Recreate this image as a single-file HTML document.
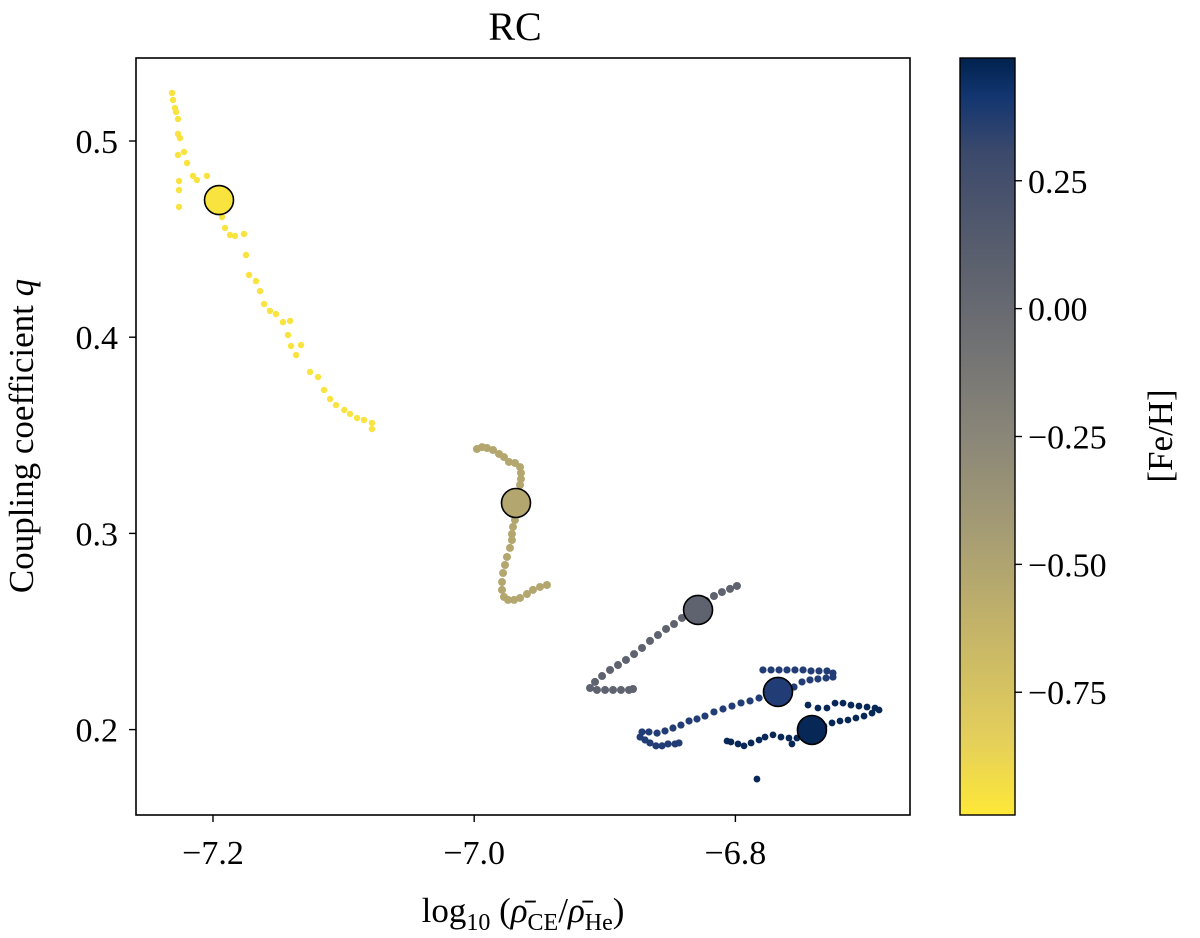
<!DOCTYPE html>
<html><head><meta charset="utf-8"><style>
html,body{margin:0;padding:0;background:#fff;}
svg{display:block;font-family:"Liberation Serif","DejaVu Serif",serif;}
</style></head><body>
<svg id="chart" width="1200" height="938" viewBox="0 0 1200 938">
<defs>
<linearGradient id="cbgrad" x1="0" y1="1" x2="0" y2="0">
<stop offset="0" stop-color="#fee838"/><stop offset="0.1" stop-color="#e4cf5b"/>
<stop offset="0.25" stop-color="#c3b369"/><stop offset="0.375" stop-color="#a59c74"/>
<stop offset="0.5" stop-color="#8a8678"/><stop offset="0.625" stop-color="#707173"/>
<stop offset="0.75" stop-color="#575d6d"/><stop offset="0.875" stop-color="#3b496c"/>
<stop offset="0.95" stop-color="#123570"/><stop offset="1" stop-color="#00224e"/>
</linearGradient>
</defs>
<text x="515" y="40" font-size="40" text-anchor="middle">RC</text>
<g id="marks"></g>
<rect x="136" y="58" width="774" height="757" fill="none" stroke="#000" stroke-width="1.6"/>
<g id="axes"></g>
<text transform="translate(33,436) rotate(-90)" font-size="35" text-anchor="middle">Coupling coefficient <tspan font-style="italic">q</tspan></text>
<text x="523" y="922" font-size="35" text-anchor="middle">log<tspan font-size="24" dy="8">10</tspan><tspan dy="-8"> (</tspan><tspan font-style="italic">ρ̄</tspan><tspan font-size="24" dy="8">CE</tspan><tspan dy="-8">/</tspan><tspan font-style="italic">ρ̄</tspan><tspan font-size="24" dy="8">He</tspan><tspan dy="-8">)</tspan></text>
<rect x="960" y="58" width="55" height="757" fill="url(#cbgrad)" stroke="#000" stroke-width="1.4"/>
<g id="cbaxis"></g>
<text transform="translate(1172,436) rotate(-90)" font-size="35" text-anchor="middle">[Fe/H]</text>
</svg>
<script>
const xTicks=[-7.2,-7.0,-6.8];
const xTickLabels=["−7.2","−7.0","−6.8"];
const yTicks=[0.2,0.3,0.4,0.5];
const yTickLabels=["0.2","0.3","0.4","0.5"];
const cbTicks=[-0.75,-0.5,-0.25,0,0.25];
const cbTickLabels=["−0.75","−0.50","−0.25","0.00","0.25"];
const trackNames=["yellow","tan","grey","blue","darkblue"];
const trackFeH=[-0.96,-0.52,0.06,0.33,0.45];
const markerX=[-7.1954,-6.9680,-6.8286,-6.7674,-6.7414];
const markerY=[0.4699,0.3155,0.2610,0.2192,0.1998];
const yellowX=[-7.2314,-7.2306,-7.2291,-7.2283,-7.2268,-7.2268,-7.2253,-7.2268,-7.2222,-7.2199,-7.2153,-7.2123,-7.2046,-7.2260,-7.2260,-7.2260,-7.1931,-7.1908,-7.1870,-7.1832,-7.1763,-7.1747,-7.1724,-7.1671,-7.1640,-7.1609,-7.1564,-7.1518,-7.1464,-7.1426,-7.1410,-7.1403,-7.1326,-7.1364,-7.1257,-7.1196,-7.1150,-7.1104,-7.1058,-7.0995,-7.0951,-7.0897,-7.0844,-7.0783,-7.0783];
const yellowY=[0.5245,0.5209,0.5168,0.5148,0.5112,0.5036,0.5015,0.4929,0.4944,0.4888,0.4822,0.4801,0.4822,0.4796,0.4750,0.4664,0.4613,0.4557,0.4521,0.4516,0.4526,0.4419,0.4317,0.4286,0.4235,0.4169,0.4134,0.4118,0.4077,0.4011,0.4083,0.3955,0.3960,0.3909,0.3823,0.3797,0.3731,0.3685,0.3654,0.3629,0.3609,0.3588,0.3578,0.3563,0.3532];
const tanX=[-6.9979,-6.9940,-6.9902,-6.9856,-6.9810,-6.9772,-6.9734,-6.9688,-6.9649,-6.9642,-6.9642,-6.9649,-6.9657,-6.9665,-6.9672,-6.9688,-6.9703,-6.9711,-6.9711,-6.9726,-6.9749,-6.9764,-6.9779,-6.9787,-6.9787,-6.9772,-6.9741,-6.9695,-6.9649,-6.9596,-6.9550,-6.9496,-6.9443];
const tanY=[0.3430,0.3440,0.3435,0.3425,0.3405,0.3389,0.3364,0.3359,0.3338,0.3308,0.3277,0.3247,0.3216,0.3186,0.3119,0.3068,0.3033,0.2997,0.2966,0.2926,0.2880,0.2839,0.2798,0.2752,0.2712,0.2676,0.2661,0.2661,0.2671,0.2691,0.2712,0.2727,0.2737];
const greyX=[-6.7988,-6.8041,-6.8103,-6.8164,-6.8225,-6.8286,-6.8348,-6.8409,-6.8470,-6.8531,-6.8593,-6.8654,-6.8715,-6.8776,-6.8838,-6.8899,-6.8960,-6.9021,-6.9075,-6.9113,-6.9060,-6.8998,-6.8937,-6.8876,-6.8815,-6.8784];
const greyY=[0.2732,0.2717,0.2701,0.2681,0.2656,0.2620,0.2594,0.2569,0.2538,0.2513,0.2482,0.2452,0.2416,0.2385,0.2355,0.2329,0.2304,0.2273,0.2243,0.2212,0.2202,0.2202,0.2202,0.2202,0.2202,0.2207];
const blueX=[-6.7789,-6.7727,-6.7666,-6.7605,-6.7544,-6.7482,-6.7421,-6.7360,-6.7299,-6.7253,-6.7253,-6.7306,-6.7368,-6.7429,-6.7490,-6.7551,-6.7620,-6.7681,-6.7750,-6.7819,-6.7888,-6.7957,-6.8026,-6.8095,-6.8164,-6.8233,-6.8294,-6.8355,-6.8417,-6.8478,-6.8539,-6.8600,-6.8662,-6.8715,-6.8730,-6.8692,-6.8654,-6.8608,-6.8562,-6.8516,-6.8462,-6.8432];
const blueY=[0.2304,0.2304,0.2304,0.2304,0.2304,0.2304,0.2299,0.2299,0.2299,0.2288,0.2268,0.2263,0.2258,0.2253,0.2243,0.2217,0.2202,0.2187,0.2171,0.2161,0.2146,0.2136,0.2120,0.2105,0.2090,0.2069,0.2054,0.2044,0.2023,0.2008,0.1993,0.1982,0.1988,0.1988,0.1962,0.1947,0.1932,0.1917,0.1917,0.1927,0.1927,0.1932];
const darkX=[-6.7444,-6.7368,-6.7299,-6.7237,-6.7176,-6.7115,-6.7054,-6.6992,-6.6931,-6.6900,-6.6954,-6.7015,-6.7077,-6.7138,-6.7199,-6.7260,-6.7322,-6.7383,-6.7460,-6.7529,-6.7590,-6.7651,-6.7712,-6.7773,-6.7819,-6.7880,-6.7934,-6.7980,-6.8034,-6.8064,-6.7567,-6.7835];
const darkY=[0.2125,0.2110,0.2110,0.2135,0.2135,0.2125,0.2120,0.2115,0.2110,0.2100,0.2084,0.2069,0.2059,0.2049,0.2044,0.2034,0.2018,0.2003,0.1982,0.1957,0.1957,0.1962,0.1973,0.1962,0.1947,0.1932,0.1917,0.1927,0.1937,0.1942,0.1927,0.1748];

const NS="http://www.w3.org/2000/svg";
const xS=v=>213+(v+7.2)*1306;
const yS=v=>141-(v-0.5)*1962;
const cbMin=-0.99,cbMax=0.49;
const cbS=v=>815-(v-cbMin)/(cbMax-cbMin)*757;
const cmap=[[0,[0,34,78]],[0.05,[13,44,94]],[0.1,[31,58,117]],[0.25,[87,93,109]],[0.375,[112,113,115]],[0.5,[138,134,120]],[0.625,[165,156,116]],[0.75,[195,179,105]],[0.9,[228,207,91]],[1,[254,232,56]]];
function color(feh){
  let t=(cbMax-feh)/(cbMax-cbMin); t=Math.max(0,Math.min(1,t));
  for(let i=1;i<cmap.length;i++){ if(t<=cmap[i][0]){const a=cmap[i-1],b=cmap[i];const f=(t-a[0])/(b[0]-a[0]);
    const c=a[1].map((v,k)=>Math.round(v+(b[1][k]-v)*f));return `rgb(${c.join(',')})`;}}
  return 'rgb(254,232,56)';
}
function mk(tag,attrs){const e=document.createElementNS(NS,tag);for(const k in attrs)e.setAttribute(k,attrs[k]);return e;}
const marks=document.getElementById('marks');
const tracksX=[yellowX,tanX,greyX,blueX,darkX];
const tracksY=[yellowY,tanY,greyY,blueY,darkY];
const dotR=[3.2,4,4,3.6,3.4];
tracksX.forEach((xs,ti)=>{
  const g=mk('g',{fill:color(trackFeH[ti])});
  
  
  xs.forEach((x,i)=>{
    const c=mk('circle',{cx:xS(x),cy:yS(tracksY[ti][i]),r:dotR[ti]});
    
    
    g.appendChild(c);
  });
  marks.appendChild(g);
});
markerX.forEach((x,i)=>{
  const c=mk('circle',{cx:xS(x),cy:yS(markerY[i]),r:14.5,fill:color(trackFeH[i]),stroke:'#000','stroke-width':1.6});
  
  
  marks.appendChild(c);
});
const axes=document.getElementById('axes');
xTicks.forEach((v,i)=>{
  const l=mk('line',{x1:xS(v),x2:xS(v),y1:815,y2:822,stroke:'#000','stroke-width':1.4});
  
  
  axes.appendChild(l);
  const t=mk('text',{x:xS(v),y:864,'font-size':34,'text-anchor':'middle'});
  
  
  t.textContent=xTickLabels[i];axes.appendChild(t);
});
yTicks.forEach((v,i)=>{
  const l=mk('line',{x1:129,x2:136,y1:yS(v),y2:yS(v),stroke:'#000','stroke-width':1.4});
  
  
  axes.appendChild(l);
  const t=mk('text',{x:118,y:yS(v)+12,'font-size':34,'text-anchor':'end'});
  
  
  t.textContent=yTickLabels[i];axes.appendChild(t);
});
const cba=document.getElementById('cbaxis');
cbTicks.forEach((v,i)=>{
  const l=mk('line',{x1:1015,x2:1022,y1:cbS(v),y2:cbS(v),stroke:'#000','stroke-width':1.4});
  
  
  cba.appendChild(l);
  const t=mk('text',{x:1028,y:cbS(v)+12,'font-size':34,'text-anchor':'start'});
  
  
  t.textContent=cbTickLabels[i];cba.appendChild(t);
});
</script>
</body></html>
